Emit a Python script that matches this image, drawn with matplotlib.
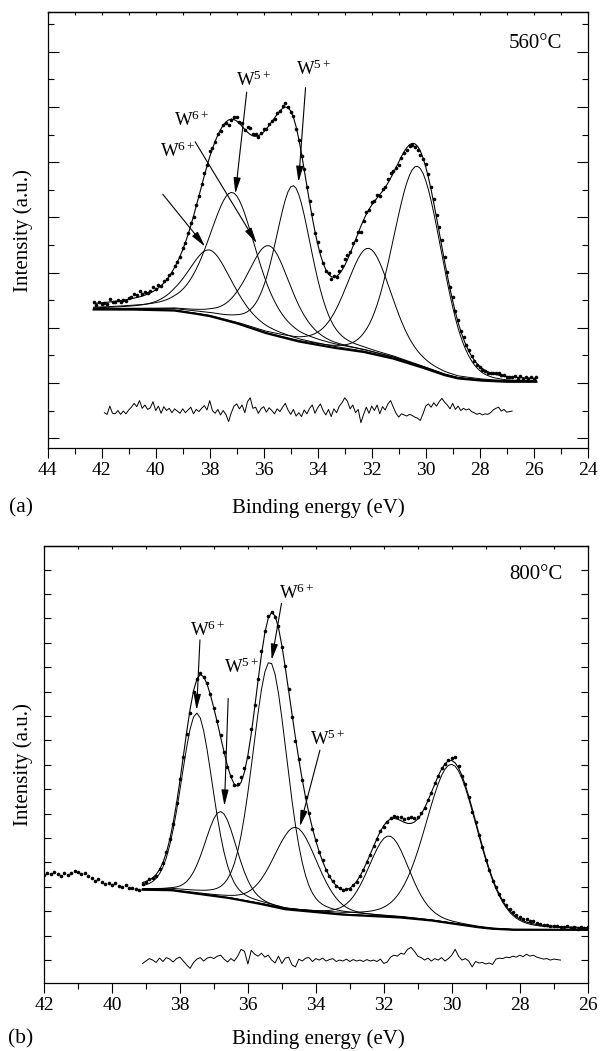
import numpy as np
import matplotlib
matplotlib.use("Agg")
import matplotlib.pyplot as plt
from matplotlib.ticker import MultipleLocator

plt.rcParams["font.family"] = ["Liberation Serif", "DejaVu Serif"]
plt.rcParams["mathtext.fontset"] = "custom"
plt.rcParams["mathtext.rm"] = "Liberation Serif"
plt.rcParams["mathtext.it"] = "Liberation Serif:italic"
plt.rcParams["mathtext.bf"] = "Liberation Serif:bold"

# ---------------- (a) 560°C ----------------
A_START, A_STEP = 42.3, 0.1
# residual (obs - fit), 42.3 -> 25.9 eV
A_RES = [0.05, -0.06, 0.03, -0.04, -0.02, -0.05, 0.10, -0.03, -0.04, 0.02,
         -0.05, 0.01, -0.04, 0.03, 0.08, 0.15, 0.09, 0.20, 0.06, 0.12,
         0.04, 0.07, 0.18, 0.02, 0.10, -0.03, 0.09, 0.02, 0.06, -0.02,
         0.05, 0.01, -0.03, 0.05, -0.02, 0.03, 0.08, -0.04, 0.04, 0.00,
         0.06, 0.11, 0.03, 0.20, 0.02, -0.03, 0.04, -0.06, 0.02, -0.05,
         -0.18, -0.02, 0.10, 0.14, 0.05, 0.12, -0.02, 0.18, 0.25, 0.06,
         0.08, -0.03, 0.05, 0.09, -0.01, 0.07, 0.02, -0.04, 0.05, 0.00,
         0.08, 0.15, 0.03, -0.05, 0.04, -0.08, -0.02, -0.09, 0.03, -0.04,
         0.06, 0.12, -0.03, 0.07, 0.14, 0.02, -0.06, 0.04, -0.09, 0.05,
         -0.02, 0.10, 0.16, 0.25, 0.19, 0.05, 0.12, -0.02, 0.04, -0.20,
         -0.05, 0.08, -0.03, 0.10, 0.02, 0.12, -0.04, 0.09, 0.03, 0.14,
         0.20, 0.08, -0.03, -0.10, -0.04, -0.06, -0.08, -0.05, -0.07, -0.10,
         -0.12, -0.16, -0.04, 0.10, 0.14, 0.08, 0.16, 0.10, 0.18, 0.24,
         0.17, 0.12, 0.05, 0.15, 0.04, 0.10, 0.02, 0.06, 0.03, 0.05,
         0.00, -0.02, -0.05, -0.03, -0.06, -0.04, -0.05, -0.02, 0.03, 0.06,
         0.08, 0.01, 0.04, -0.01, 0.00, 0.01, 0.05, -0.04, 0.06, -0.05,
         0.02, -0.03, 0.04, -0.02, 0.06]
A_RES_RANGE = (41.9, 26.8)
A_RES_OFFSET = 0.48
A_BL_E = [42.35, 41.0, 40.0, 39.3, 38.6, 38.0, 37.0, 35.9, 34.7, 33.45,
          32.3, 31.2, 30.2, 29.3, 28.8, 27.9, 27.0, 25.85]
A_BL_Y = [2.33, 2.33, 2.32, 2.31, 2.26, 2.21, 2.08, 1.90, 1.75, 1.64,
          1.56, 1.44, 1.29, 1.14, 1.08, 1.04, 1.02, 1.02]
A_PK_C = [38.0, 37.15, 35.8, 34.9, 32.1, 30.3]
A_PK_H = [1.20, 2.35, 1.60, 2.80, 1.90, 3.62]
A_PK_W = [2.0, 2.1, 1.9, 1.6, 2.0, 2.1]
A_PK_ETA = [0.5, 0.45, 0.45, 0.4, 0.3, 0.1]  # lorentzian fraction
A_LABELS = [("W$^{5+}$", 36.38, 6.49, 36.63, 6.27, 37.05, 4.43),
            ("W$^{5+}$", 34.14, 6.68, 34.45, 6.35, 34.71, 4.64),
            ("W$^{6+}$", 38.67, 5.76, 38.54, 5.37, 36.26, 3.53),
            ("W$^{6+}$", 39.19, 5.19, 39.74, 4.42, 38.17, 3.47)]

# ---------------- (b) 800°C ----------------
B_START, B_STEP = 39.1, 0.1
B_RES = [-0.07, -0.02, 0.03, 0.00, -0.05, 0.04, -0.03, 0.05, 0.02, -0.04,
         0.03, 0.06, -0.02, -0.10, -0.17, -0.05, 0.02, 0.05, -0.02, 0.04,
         0.06, 0.03, 0.08, 0.10, 0.02, -0.04, 0.03, -0.02, 0.08, 0.22,
         0.18, -0.08, 0.20, 0.12, 0.08, 0.14, 0.06, 0.10, 0.00, -0.06,
         0.08, -0.07, 0.04, 0.06, -0.10, -0.14, 0.02, -0.02, 0.04, 0.05,
         -0.03, 0.03, 0.00, 0.04, -0.02, 0.01, 0.03, -0.03, 0.00, -0.02,
         0.02, -0.03, 0.01, -0.02, 0.00, -0.03, 0.01, -0.02, 0.00, -0.03,
         0.02, -0.07, -0.04, 0.06, 0.10, 0.08, 0.14, 0.12, 0.22, 0.26,
         0.18, 0.08, 0.05, 0.00, 0.04, -0.02, 0.03, 0.00, 0.05, -0.02,
         0.03, 0.10, 0.22, 0.08, 0.00, 0.03, -0.02, -0.14, -0.03, -0.06,
         -0.05, -0.08, -0.06, -0.09, 0.02, 0.04, 0.03, 0.06, 0.05, 0.08,
         0.06, 0.10, 0.07, 0.12, 0.08, 0.10, 0.06, 0.04, 0.02, 0.03,
         0.00, 0.02, 0.01, 0.00, -0.03, 0.04, -0.05, 0.02, -0.06, 0.03,
         -0.02, 0.01]
B_RES_RANGE = (39.1, 26.8)
B_RES_OFFSET = 0.0
# measured points outside the fitted window, 42.0 -> 39.2 eV
B_PRE_START = 42.0
B_PRE = [1.74, 1.78, 1.76, 1.80, 1.77, 1.72, 1.78, 1.75, 1.79, 1.82,
         1.80, 1.76, 1.78, 1.72, 1.68, 1.63, 1.66, 1.60, 1.56, 1.58,
         1.54, 1.57, 1.52, 1.50, 1.53, 1.48, 1.47, 1.45, 1.43]
B_BL_E = [39.1, 38.25, 37.5, 36.55, 35.7, 34.9, 34.0, 33.2, 32.3, 31.5,
          30.6, 29.8, 29.2, 28.8, 28.2, 27.55, 26.0]
B_BL_Y = [1.44, 1.43, 1.36, 1.27, 1.16, 1.04, 0.98, 0.93, 0.90, 0.87,
          0.81, 0.73, 0.67, 0.64, 0.62, 0.62, 0.62]
B_PK_C = [37.5, 36.8, 35.35, 34.6, 31.85, 30.0]
B_PK_H = [3.70, 1.75, 5.00, 1.70, 1.66, 3.26]
B_PK_W = [1.1, 1.1, 1.2, 1.5, 1.4, 1.8]
B_PK_ETA = [0.2, 0.2, 0.2, 0.2, 0.2, 0.2]
B_LABELS = [("W$^{6+}$", 37.20, 6.76, 37.41, 6.56, 37.51, 5.12),
            ("W$^{5+}$", 36.19, 6.00, 36.58, 5.36, 36.69, 3.16),
            ("W$^{6+}$", 34.57, 7.51, 35.01, 7.31, 35.30, 6.15),
            ("W$^{5+}$", 33.67, 4.53, 33.88, 4.30, 34.47, 2.74)]


def pvoigt(x, c, h, w, eta):
    r = (x - c) / w
    return h * (eta / (1 + 4 * r ** 2) + (1 - eta) * np.exp(-4 * np.log(2) * r ** 2))


def draw(ax, start, step, res, bl_e, bl_y, pc, ph, pw, pe, rng, off, labels):
    res = np.asarray(res)
    e = np.round(start - step * np.arange(len(res)), 2)
    base = np.interp(e, bl_e[::-1], bl_y[::-1])
    comps = [pvoigt(e, c, h, w, k) for c, h, w, k in zip(pc, ph, pw, pe)]
    fit = base + np.sum(comps, axis=0)
    obs = fit + 0.5 * res
    ax.plot(e, obs, "o", ms=2.6, mec="none", color="k", zorder=3)
    ax.plot(e, fit, color="k", lw=0.8)
    for c in comps:
        ax.plot(e, base + c, color="k", lw=0.7)
    ax.plot(e, base, color="k", lw=1.5)
    m = (e <= rng[0]) & (e >= rng[1])
    ax.plot(e[m], res[m] + off, color="k", lw=0.7)
    for txt, tx, ty, x0, y0, x1, y1 in labels:
        ax.text(tx, ty, txt, ha="center", va="center", fontsize=13.5)
        ax.annotate("", xy=(x1, y1), xytext=(x0, y0),
                    arrowprops=dict(arrowstyle="-|>,head_length=0.8,head_width=0.18",
                                    color="k", lw=0.8, shrinkA=0, shrinkB=0,
                                    mutation_scale=12))


def style(ax, major_y, minor_y, rlen):
    ax.xaxis.set_major_locator(MultipleLocator(2))
    ax.xaxis.set_minor_locator(MultipleLocator(1))
    ax.yaxis.set_major_locator(MultipleLocator(major_y))
    if minor_y:
        ax.yaxis.set_minor_locator(MultipleLocator(minor_y))
    ax.tick_params(axis="x", which="major", direction="out", length=7, width=0.8,
                   labelsize=14, pad=3, top=False)
    ax.tick_params(axis="x", which="minor", direction="out", length=4.5, width=0.8, top=False)
    ax.tick_params(axis="y", which="both", direction="in", left=True, right=True,
                   labelleft=False, width=0.8)
    ax.tick_params(axis="y", which="major", length=rlen[0])
    ax.tick_params(axis="y", which="minor", length=rlen[1])
    sec = ax.secondary_xaxis("top")
    sec.xaxis.set_major_locator(MultipleLocator(1))
    sec.tick_params(direction="in", length=2, width=0.8, labeltop=False)
    for s in ax.spines.values():
        s.set_linewidth(0.9)
    sec.spines["top"].set_linewidth(0.9)


fig = plt.figure(figsize=(6.0, 10.51), dpi=100)

ax1 = fig.add_axes([0.0795, 0.5737, 0.9, 0.4148])
draw(ax1, A_START, A_STEP, A_RES, A_BL_E, A_BL_Y, A_PK_C, A_PK_H, A_PK_W, A_PK_ETA,
     A_RES_RANGE, A_RES_OFFSET, A_LABELS)
ax1.set_xlim(44, 24)
ax1.set_ylim(-0.18, 7.72)
style(ax1, 1, 0.5, (8, 4.5))
ax1.text(0.904, 0.929, "560°C", transform=ax1.transAxes, ha="center", va="center", fontsize=15)

ax2 = fig.add_axes([0.0733, 0.0647, 0.9062, 0.4161])
e_pre = np.round(B_PRE_START - B_STEP * np.arange(len(B_PRE)), 2)
ax2.plot(e_pre, B_PRE, "o", ms=2.6, mec="none", color="k", zorder=3)
draw(ax2, B_START, B_STEP, B_RES, B_BL_E, B_BL_Y, B_PK_C, B_PK_H, B_PK_W, B_PK_ETA,
     B_RES_RANGE, B_RES_OFFSET, B_LABELS)
ax2.set_xlim(42, 26)
ax2.set_ylim(-0.47, 8.49)
style(ax2, 0.5, None, (5, 5))
ax2.text(0.905, 0.933, "800°C", transform=ax2.transAxes, ha="center", va="center", fontsize=15)

for ax, x_yl, y_xl, tag in ((ax1, 22.8, 508, "(a)"), (ax2, 22.8, 1039, "(b)")):
    fig.text(x_yl / 600, ax.get_position().y0 + ax.get_position().height / 2,
             "Intensity (a.u.)", rotation=90, ha="center", va="center", fontsize=15)
    fig.text(318 / 600, 1 - y_xl / 1051, "Binding energy (eV)", ha="center", va="center",
             fontsize=15)
    fig.text(20.5 / 600, 1 - y_xl / 1051, tag, ha="center", va="center", fontsize=15.5)

fig.savefig("out.png", dpi=100)
